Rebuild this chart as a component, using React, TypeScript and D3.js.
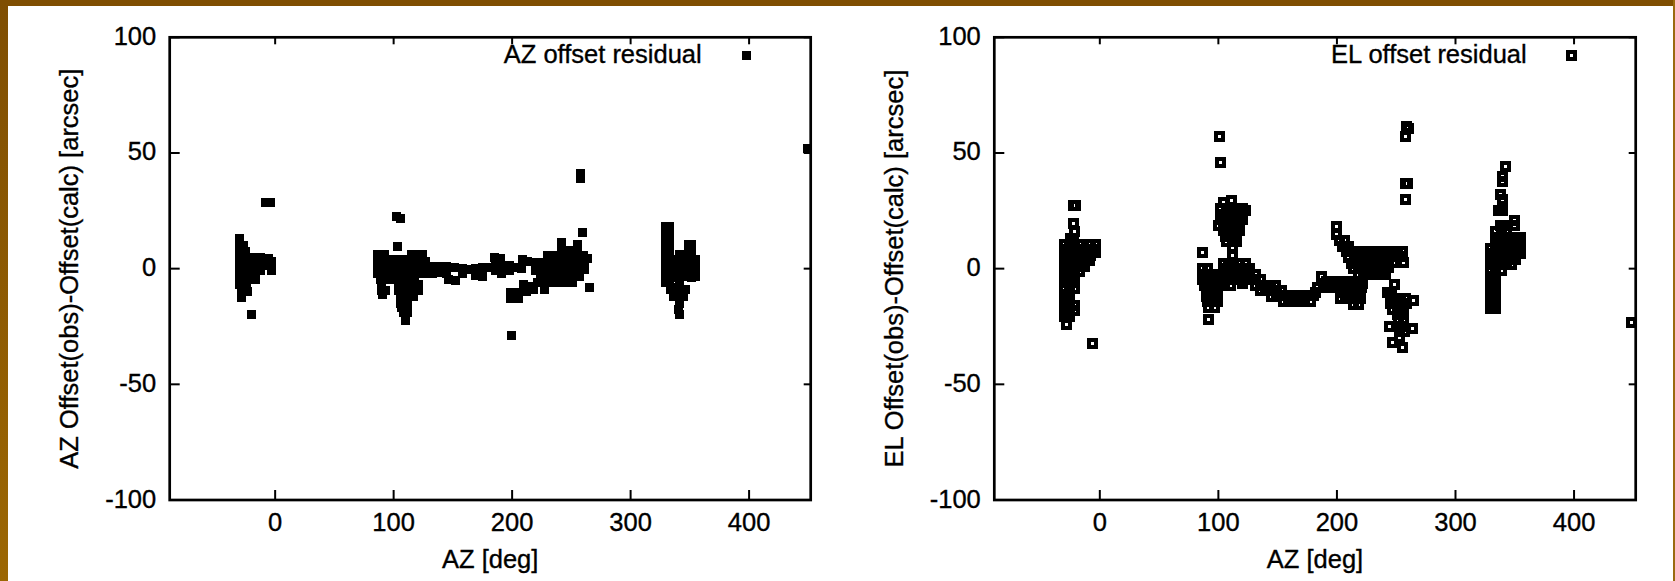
import React from 'react';
import * as d3 from 'd3';

type Pt = [number, number];

const xTicks = [0, 100, 200, 300, 400];
const yTicks = [-100, -50, 0, 50, 100];
const xDomain = [-89, 452];
const yDomain = [-100, 100];

// AZ offset residual: [AZ deg, residual arcsec]
const azWest: Pt[] = [
  [-30, 13], [-30, 10], [-27, 10], [-30, 7], [-25, 7.5],
  [-30, 4.5], [-24, 4.5], [-18, 5], [-12, 5], [-6, 4.5], [-3, 3],
  [-30, 1.5], [-24, 1.5], [-18, 2], [-12, 1], [-5, 1.5],
  [-30, -1.5], [-24, -1], [-18, -1], [-12, -1], [-3, -1],
  [-30, -4.5], [-24, -4], [-17, -4.5],
  [-30, -7], [-24, -7], [-28, -10], [-23, -10], [-28, -12.5],
  [-20, -20], [-8, 28.5], [-4, 28.5],
];
const azMid: Pt[] = [
  [102, 22.5], [105.5, 21.5], [103.5, 9.7],
  [86.5, 6.3], [92, 6.3], [115, 6.3], [121, 6.3], [124, 6],
  [86.5, 4], [92, 4], [98, 4], [104, 4], [110, 4], [116, 4], [122, 4], [127, 3],
  [86.5, 1], [92, 1], [98, 1], [104, 1], [110, 1], [116, 1], [122, 1], [128, 1], [133, 1],
  [86.5, -2], [92, -2], [98, -2], [104, -2], [110, -2], [116, -2], [122, -2], [128, -2], [133, -2],
  [89, -4.5], [95, -4.5], [101, -4.5], [107, -4.5], [113, -4.5], [118, -4.5],
  [90, -7], [104, -7], [110, -7], [116, -7], [121, -7],
  [90, -9.5], [93, -9.5], [104, -9.5], [110, -9.5], [116, -9.5], [121, -9.5],
  [91, -11], [106, -12], [112, -12], [117, -12],
  [106, -15], [112, -15], [107, -17], [112, -17], [108, -19], [112, -19], [110, -22.3],
];
const azBand: Pt[] = [
  [139, 1], [145, 1], [151, 0.5], [139, -1.5], [145, -2], [146, -4.5], [152, -5],
  [158, 0], [163, -0.5], [158, -2],
  [169, 0], [175, 0.5], [180, 0.5], [169, -3], [175, -3.5],
  [185, 4.8], [190, 4.5], [186, 2], [192, 1.5], [186, -1], [191, -2],
  [198, 1.5], [204, 0.5], [198, -1], [208, 0], [209, 4], [213, 3],
  [220, 2.5], [226, 2.5], [232, 2.5], [220, -1], [226, -1], [232, -1], [224, -4], [230, -4],
  [230, 5.5], [234, 5],
  [199, -10.5], [205, -10.5], [199, -13], [205, -13],
  [210, -7], [215, -7.5], [221, -6], [212, -10], [218, -9],
  [199.5, -29],
];
const azEast: Pt[] = [
  [242, 11.5], [255, 10.5], [242, 8.5], [248, 8], [255, 8],
  [236, 5.5], [242, 5.5], [248, 5.5], [254, 5.5], [260, 5.5], [264, 4.5],
  [227, 2.5], [233, 2.5], [239, 2.5], [245, 2.5], [251, 2.5], [257, 2.5], [261, 2.5],
  [227, -0.5], [233, -0.5], [239, -0.5], [245, -0.5], [251, -0.5], [257, -0.5], [261, -0.5],
  [227, -3.5], [233, -3.5], [239, -3.5], [245, -3.5], [251, -3.5], [257, -3.5],
  [227, -6], [233, -6], [239, -6], [245, -6], [251, -6],
  [227, -9], [265, -8],
  [258, 41], [258, 39], [259, 15.6],
];
const azFar: Pt[] = [
  [329.5, 18.3], [329.5, 15], [329.5, 11.5], [329.5, 8], [329.5, 4.5], [329.5, 1], [329.5, -2.5], [329.5, -6],
  [332.5, 18.3], [332.5, 15], [332.5, 11.5], [332.5, 8], [332.5, 4.5], [332.5, 1], [332.5, -2.5], [332.5, -6],
  [336, 4], [336, 0], [336, -4], [336, -8],
  [341, 6], [341, 2.5], [341, -1], [341, -4.5], [341, -8], [341, -11.5], [341, -15],
  [348.5, 10.5], [348.5, 7], [348.5, 3.5], [348.5, 0], [348.5, -3.5],
  [351, 10.5], [351, 7], [351, 3.5], [351, 0], [351, -4],
  [354.5, 4], [354.5, 0], [354.5, -3.5],
  [334, -9], [336, -12], [346, -9], [345, -12],
  [340.5, -17.5], [341, -20],
  [449, 52],
];

// EL offset residual: [AZ deg, residual arcsec]
const elWest: Pt[] = [
  [-22.3, 27.3], [-20.3, 27.3], [-22.5, 19.7], [-21.5, 16],
  [-25, 13], [-22, 13],
  [-30, 10.6], [-25.5, 10.6], [-21, 10.6], [-17, 10.6], [-7.5, 10.5], [-4, 10.5],
  [-30, 8.2], [-25.5, 8.2], [-21, 8.2], [-16.5, 8.2], [-12, 8.2], [-7.5, 8.2], [-3.5, 8.2],
  [-30, 5.8], [-25.5, 5.8], [-21, 5.8], [-16.5, 5.8], [-12, 5.8], [-8, 5.8], [-3.5, 7],
  [-30, 3.4], [-25.5, 3.4], [-21, 3.4], [-16.5, 3.4], [-12, 3.4], [-8.5, 3.4],
  [-30, 1], [-25.5, 1], [-21, 1], [-16.5, 1], [-12.5, 1],
  [-30, -1.4], [-25.5, -1.4], [-21, -1.4], [-17, -1.4],
  [-30, -3.8], [-25.5, -3.8], [-21, -3.8],
  [-30, -6.2], [-25.5, -6.2], [-21, -6.2],
  [-30, -8.6], [-25.5, -8.6], [-21, -8.6],
  [-30, -11], [-27.7, -11], [-25.5, -11],
  [-30, -13.4], [-27.7, -13.4], [-25.5, -13.4],
  [-30, -15.8], [-25.5, -15.8], [-21, -15.8],
  [-30, -18.2], [-25.5, -18.2], [-21, -18.2],
  [-30, -20.6], [-27.7, -20.6], [-25.5, -20.6],
  [-28, -24], [-6.2, -32.5],
];
const elMidUpper: Pt[] = [
  [101, 57], [102, 46],
  [104.4, 28.4], [111, 29.4],
  [102, 26], [106.5, 26], [111, 26], [115.5, 26], [120, 26], [122.5, 25],
  [102, 23.6], [106.5, 23.6], [111, 23.6], [115.5, 23.6], [120, 23.6],
  [102, 21.2], [106.5, 21.2], [111, 21.2], [115.5, 21.2], [120, 21.2],
  [100, 18.8], [104, 18.8], [108.5, 18.8], [113, 18.8], [117.5, 18.8],
  [104, 16.4], [108.5, 16.4], [113, 16.4], [117.5, 16.4],
  [106, 14], [110.5, 14], [115, 14],
  [107, 11.8], [111.5, 11.8], [115, 11.8],
  [112, 9.3], [112, 5.8], [87, 7],
];
const elMidLower: Pt[] = [
  [104, 2.4], [108.5, 2.4], [113, 2.4], [117.5, 2.4], [122.5, 2.4],
  [87, 0], [91, 0], [104, 0], [108.5, 0], [113, 0], [117.5, 0], [122, 0], [126, 0],
  [87, -2.4], [91, -2.4], [95, -2.4], [99.5, -2.4], [104, -2.4], [108.5, -2.4], [113, -2.4],
  [117.5, -2.4], [122, -2.4], [126.5, -2.4], [131, -2.4],
  [87, -4.8], [91, -4.8], [95, -4.8], [99.5, -4.8], [104, -4.8], [108.5, -4.8], [113, -4.8],
  [117.5, -4.8], [122, -4.8], [126.5, -4.8], [131, -4.8], [135.5, -4.8],
  [88, -7.2], [92, -7.2], [96.5, -7.2], [101, -7.2], [105.5, -7.2], [110, -7.2], [120, -6.6],
  [131, -7.2], [135.5, -7.2], [140, -7.2], [144, -7.2], [148.5, -7.2],
  [90, -9.6], [94.5, -9.6], [99, -9.6], [135.5, -9.6], [140, -9.6], [144.5, -9.6], [149, -9.6], [153, -9.6],
  [90, -12], [94.5, -12], [99, -12], [144.5, -12], [149, -12], [153, -11.8], [157.5, -11.8],
  [162, -11.8], [166.5, -11.8], [171, -11.8], [175.5, -11.8], [180, -11.8],
  [91, -14.4], [95.5, -14.4], [99, -14.4], [155, -14.2], [159.5, -14.2], [164, -14.2],
  [168.5, -14.2], [173, -14.2], [177.5, -14.2],
  [92, -16.8], [96.5, -16.8], [92, -22],
];
const elBand: Pt[] = [
  [187, -3.6], [191.5, -5.5], [196, -5.5], [200.5, -5.5], [205, -5.5], [209.5, -5.5], [214, -5.5], [218, -5.5],
  [184, -8], [188.5, -8], [193, -8], [197.5, -8], [202, -8], [206.5, -8], [211, -8], [215.5, -8], [219, -10.6],
  [182, -10.5], [203, -10.5], [207.5, -10.5], [212, -10.5], [216.5, -10.5], [221, -8],
  [203, -12.9], [207.5, -12.9], [212, -12.9], [216.5, -12.9], [220, -12.9],
  [214, -15.3], [218.5, -15.3],
  [200, 18.4], [200, 14.9], [202, 12], [206.5, 12], [205, 9.6], [209.5, 9.6],
  [208, 7.2], [212.5, 7.2], [217, 7.2], [221.5, 7.2], [226, 7.2], [230.5, 7.2], [235, 7.2],
  [210, 4.8], [214.5, 4.8], [219, 4.8], [223.5, 4.8], [228, 4.8], [232.5, 4.8], [237, 4.8],
  [212, 2.4], [216.5, 2.4], [221, 2.4], [225.5, 2.4], [230, 2.4], [234.5, 2.4], [239, 2.4],
  [214, 0], [218.5, 0], [223, 0], [227.5, 0], [232, 0], [236.5, 0], [241, 0],
  [218, -2.4], [222.5, -2.4], [227, -2.4], [231.5, -2.4], [236, -2.4], [240.5, -2.4],
  [221.7, -6.6],
];
const elEast: Pt[] = [
  [233, 7.5], [237.5, 7.5], [242, 7.5], [246.5, 7.5], [251, 7.5], [255.5, 7.5],
  [233, 5.1], [237.5, 5.1], [242, 5.1], [246.5, 5.1], [251, 5.1], [255.5, 5.1],
  [230, 2.8], [234.5, 2.8], [239, 2.8], [243.5, 2.8], [248, 2.8], [256, 2.8],
  [230, 0.4], [234.5, 0.4], [239, 0.4], [243.5, 0.4],
  [232, -2.2], [236.5, -2.2], [241, -2.2],
  [248.7, -6.7], [242.8, -10.3], [246, -10.3],
  [245, -12.8], [249.5, -12.8], [254, -12.8], [258, -12.8],
  [245, -15.2], [249.5, -15.2], [254, -15.2], [258.5, -15.2], [265, -13.8],
  [247, -17.6], [251.5, -17.6], [256, -17.6],
  [251, -20], [255, -20], [252, -22.4], [256, -22.4],
  [244.5, -24.8], [254.6, -24.8], [264, -26],
  [253, -27.2], [257, -27.2], [253, -29.6],
  [247, -31.8], [255, -34],
  [259, 61.5], [260, 60.5], [258, 57], [257.5, 36.7], [259.5, 36.7], [257.5, 30],
];
const elFar: Pt[] = [
  [342, 44], [340, 40], [339.5, 37.5], [338, 32], [339.5, 30], [336.5, 25], [340, 25],
  [349.5, 21], [349.5, 18.5], [338, 18.5], [341.5, 18.5],
  [334, 16], [338.5, 16], [343, 16],
  [334, 13.6], [338.5, 13.6], [343, 13.6], [347.5, 13.6], [352, 13.6], [354.5, 13.6],
  [334, 11.2], [338.5, 11.2], [343, 11.2], [347.5, 11.2], [352, 11.2], [354.5, 11.2],
  [329.5, 8.8], [334, 8.8], [338.5, 8.8], [343, 8.8], [347.5, 8.8], [352, 8.8], [354.5, 8.8],
  [329.5, 6.4], [334, 6.4], [338.5, 6.4], [343, 6.4], [347.5, 6.4], [352, 6.4], [354.5, 6.4],
  [329.5, 4], [334, 4], [338.5, 4], [343, 4], [347.5, 4], [351, 4],
  [329.5, 1.6], [334, 1.6], [338.5, 1.6], [343, 1.6], [347.5, 1.6],
  [329.5, -0.8], [334, -0.8], [338.5, -0.8],
  [329.5, -3.2], [331.8, -3.2], [334, -3.2], [329.5, -5.6], [334, -5.6],
  [329.5, -8], [331.8, -8], [334, -8], [329.5, -10.4], [334, -10.4],
  [329.5, -12.8], [331.8, -12.8], [334, -12.8], [329.5, -15.2], [334, -15.2],
  [329.5, -17.4], [331.8, -17.4], [334, -17.4],
  [448.7, -23.4],
];

const W = 1675;
const H = 581;
const FONT = '"Liberation Sans", Arial, Helvetica, sans-serif';
const TOP = 37.3;
const BOTTOM = 500;

type PanelProps = {
  id: string;
  left: number;
  right: number;
  series: Pt[][];
  open: boolean;
  title: string;
  yLabel: string;
};

function Marker({ x, y, open }: { x: number; y: number; open: boolean }) {
  // gnuplot style: filled box / open box
  return open ? (
    <rect x={x - 3.5} y={y - 3.5} width={7} height={7} fill="none" stroke="#000" strokeWidth={4} />
  ) : (
    <rect x={x - 4.5} y={y - 4.5} width={9} height={9} fill="#000" />
  );
}

function Panel({ id, left, right, series, open, title, yLabel }: PanelProps) {
  const x = d3.scaleLinear().domain(xDomain).range([left, right]);
  const y = d3.scaleLinear().domain(yDomain).range([BOTTOM, TOP]);
  const pts = series.flat();
  const midX = (left + right) / 2;
  const midY = (TOP + BOTTOM) / 2;

  return (
    <g fontFamily={FONT} fontSize={25.5} fill="#000">
      <defs>
        <clipPath id={id}>
          <rect x={left} y={TOP} width={right - left} height={BOTTOM - TOP} />
        </clipPath>
      </defs>
      <g clipPath={`url(#${id})`} shapeRendering="crispEdges">
        {pts.map(([a, r], i) => (
          <Marker key={i} x={x(a)} y={y(r)} open={open} />
        ))}
      </g>

      <rect x={left} y={TOP} width={right - left} height={BOTTOM - TOP}
        fill="none" stroke="#000" strokeWidth={2.7} />
      {xTicks.map(t => (
        <g key={'x' + t} stroke="#000" strokeWidth={2}>
          <line x1={x(t)} x2={x(t)} y1={BOTTOM} y2={BOTTOM - 10} />
          <line x1={x(t)} x2={x(t)} y1={TOP} y2={TOP + 7} />
        </g>
      ))}
      {yTicks.map(t => (
        <g key={'y' + t} stroke="#000" strokeWidth={2}>
          <line x1={left} x2={left + 10} y1={y(t)} y2={y(t)} />
          <line x1={right} x2={right - 7} y1={y(t)} y2={y(t)} />
        </g>
      ))}

      <g stroke="#000" strokeWidth={0.35}>
        {xTicks.map(t => (
          <text key={'xl' + t} x={x(t)} y={531} textAnchor="middle">{t}</text>
        ))}
        {yTicks.map(t => (
          <text key={'yl' + t} x={left - 13.5} y={y(t) + 7.5} textAnchor="end">{t}</text>
        ))}
        <text x={midX} y={568} textAnchor="middle">AZ [deg]</text>
        <text transform={`translate(${left - 91.5},${midY}) rotate(-90)`} textAnchor="middle">
          {yLabel}
        </text>
        <text x={right - 109} y={62.5} textAnchor="end">{title}</text>
      </g>
      <g shapeRendering="crispEdges">
        <Marker x={right - 64} y={TOP + 18} open={open} />
      </g>
    </g>
  );
}

export default function App() {
  return (
    <svg width={W} height={H} viewBox={`0 0 ${W} ${H}`}
      style={{ position: 'absolute', left: 0, top: 0, display: 'block' }}>
      <defs>
        <linearGradient id="leftBar" x1="0" y1="0" x2="0" y2="1">
          <stop offset="0" stopColor="#7f4e02" />
          <stop offset="1" stopColor="#9c6703" />
        </linearGradient>
      </defs>
      <rect width={W} height={H} fill="#fff" />
      <rect x={0} y={0} width={W} height={6} fill="#7f4e02" />
      <rect x={0} y={0} width={8} height={H} fill="url(#leftBar)" />
      <rect x={W - 2} y={0} width={2} height={H} fill="#9a6a10" />

      <Panel id="clipAz" left={169.7} right={810.7}
        series={[azWest, azMid, azBand, azEast, azFar]} open={false}
        title="AZ offset residual" yLabel="AZ Offset(obs)-Offset(calc) [arcsec]" />
      <Panel id="clipEl" left={994.3} right={1635.7}
        series={[elWest, elMidUpper, elMidLower, elBand, elEast, elFar]} open={true}
        title="EL offset residual" yLabel="EL Offset(obs)-Offset(calc) [arcsec]" />
    </svg>
  );
}
